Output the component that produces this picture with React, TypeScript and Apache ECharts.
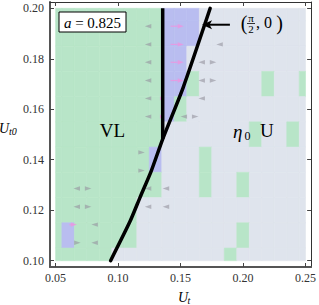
import React, { useEffect, useRef } from 'react';
import * as echarts from 'echarts';

// ---- axis ranges & ticks ----
const X_MIN = 0.0455;
const X_MAX = 0.2545;
const Y_MIN = 0.0975;
const Y_MAX = 0.2025;
const xTicks = [0.05, 0.1, 0.15, 0.2, 0.25];
const yTicks = [0.1, 0.12, 0.14, 0.16, 0.18, 0.2];

// ---- region cells (U_t = 0.05..0.25 step 0.01, U_t0 = 0.20..0.10 step 0.01) ----
const cellXs = [0.05, 0.06, 0.07, 0.08, 0.09, 0.1, 0.11, 0.12, 0.13, 0.14, 0.15, 0.16, 0.17, 0.18, 0.19, 0.2, 0.21, 0.22, 0.23, 0.24, 0.25];
const cellYs = [0.2, 0.19, 0.18, 0.17, 0.16, 0.15, 0.14, 0.13, 0.12, 0.11, 0.1];
// G = VL (green), U = U (grey-blue), P = purple
const cellRows = [
  'GGGGGGGGGPPPUUUUUUUUU',
  'GGGGGGGGGPPPUUUUUUUUU',
  'GGGGGGGGGPPUUUUUUUUUU',
  'GGGGGGGGGPPGUUUUUGUUG',
  'GGGGGGGGGPGUUUUUUUUUU',
  'GGGGGGGGGUUUUUUUGUUGU',
  'GGGGGGGGPUUUGUUUUUUUU',
  'GGGGGGGGGUUUGUUGUUUUU',
  'GGGGGGGUUUUUUUUUUUUUU',
  'GPGGGGGUUUUUUUUGUUUUU',
  'GGGGGUUUUUUUUUGUUUUUU',
];
const cellHalf = 0.005;
const dataXMin = 0.05, dataXMax = 0.25, dataYMin = 0.1, dataYMax = 0.2;
const cellColors: Record<string, string> = { G: '#b8e5c8', U: '#dfe4ed', P: '#b9bdf0' };
const cellCats = ['G', 'U', 'P'];

// ---- direction arrows: [tip U_t, U_t0, direction (-1 left, +1 right)] ----
const grayArrows: number[][] = [
  [0.1214, 0.1929, -1],
  [0.1214, 0.1857, -1], [0.1786, 0.1857, -1],
  [0.1214, 0.1786, -1], [0.1643, 0.1786, -1], [0.1786, 0.1786, 1],
  [0.1214, 0.1714, -1], [0.1643, 0.1714, -1], [0.1786, 0.1714, 1],
  [0.1214, 0.1643, -1], [0.1643, 0.1643, -1],
  [0.1214, 0.1571, -1], [0.15, 0.1571, -1], [0.1643, 0.1571, 1],
  [0.1214, 0.1429, 1],
  [0.1214, 0.1357, 1],
  [0.0643, 0.1286, -1], [0.0786, 0.1286, 1], [0.1214, 0.1286, -1], [0.1357, 0.1286, -1],
  [0.0643, 0.1214, -1], [0.0786, 0.1214, 1], [0.1214, 0.1214, -1], [0.1357, 0.1214, -1],
  [0.0786, 0.1143, -1],
  [0.0786, 0.1071, -1], [0.07, 0.1071, 1],
];
// pink arrows: [tail U_t, tip U_t, U_t0]
const pinkArrows: number[][] = [
  [0.142, 0.1525, 0.1929],
  [0.142, 0.1525, 0.1857],
  [0.142, 0.1525, 0.1786],
  [0.142, 0.1525, 0.1714],
  [0.1335, 0.1357, 0.1643],
  [0.1335, 0.1357, 0.1571],
  [0.061, 0.067, 0.1143],
];

// ---- boundary curves ----
const curveX = [0.094, 0.1095, 0.1175, 0.1265, 0.1357, 0.152, 0.1737];
const curveY = [0.1, 0.1155, 0.125, 0.1355, 0.1482, 0.1685, 0.2];
const vLineX = [0.1357, 0.1357];
const vLineY = [0.1482, 0.2];
// annotation arrow pointing at (pi/2, 0): [tail U_t, tip U_t, U_t0]
const annot = [0.1895, 0.1672, 0.1935];

export default function App() {
  const ref = useRef<HTMLDivElement>(null);
  useEffect(() => {
    if (!ref.current) return;
    const chart = echarts.init(ref.current, null, { renderer: 'svg' });
    const cells: number[][] = [];
    cellRows.forEach((row, ri) => {
      for (let ci = 0; ci < row.length; ci++) {
        cells.push([cellXs[ci], cellYs[ri], cellCats.indexOf(row[ci])]);
      }
    });
    const serif = 'Liberation Serif';
    const axisCommon = (min: number, max: number) => ({
      type: 'value', min, max, splitLine: { show: false },
    });
    const option: any = {
      animation: false,
      backgroundColor: '#ffffff',
      grid: { left: 50, top: 2, right: 5, bottom: 38 },
      xAxis: [
        {
          ...axisCommon(X_MIN, X_MAX), position: 'bottom',
          axisLine: { onZero: false, lineStyle: { color: '#555', width: 2 } },
          axisTick: { inside: true, length: 4, customValues: xTicks, lineStyle: { color: '#444' } },
          axisLabel: { customValues: xTicks, formatter: (v: number) => v.toFixed(2), margin: 5, fontFamily: serif, fontSize: 12, color: '#333' },
        },
        {
          ...axisCommon(X_MIN, X_MAX), position: 'top',
          axisLine: { onZero: false, lineStyle: { color: '#333', width: 1 } },
          axisTick: { inside: true, length: 4, customValues: xTicks, lineStyle: { color: '#444' } },
          axisLabel: { show: false },
        },
      ],
      yAxis: [
        {
          ...axisCommon(Y_MIN, Y_MAX), position: 'left',
          axisLine: { onZero: false, lineStyle: { color: '#555', width: 2 } },
          axisTick: { inside: true, length: 4, customValues: yTicks, lineStyle: { color: '#444' } },
          axisLabel: { customValues: yTicks, formatter: (v: number) => v.toFixed(2), margin: 6, fontFamily: serif, fontSize: 12, color: '#333' },
        },
        {
          ...axisCommon(Y_MIN, Y_MAX), position: 'right',
          axisLine: { onZero: false, lineStyle: { color: '#333', width: 1 } },
          axisTick: { inside: true, length: 4, customValues: yTicks, lineStyle: { color: '#444' } },
          axisLabel: { show: false },
        },
      ],
      series: [
        {
          type: 'custom', xAxisIndex: 0, yAxisIndex: 0, z: 1,
          data: cells,
          renderItem: (params: any, api: any) => {
            const x = api.value(0), y = api.value(1), c = cellCats[api.value(2)];
            const x0 = Math.max(x - cellHalf, dataXMin), x1 = Math.min(x + cellHalf, dataXMax);
            const y0 = Math.max(y - cellHalf, dataYMin), y1 = Math.min(y + cellHalf, dataYMax);
            const p0 = api.coord([x0, y1]);
            const p1 = api.coord([x1, y0]);
            return {
              type: 'rect',
              shape: { x: p0[0], y: p0[1], width: p1[0] - p0[0], height: p1[1] - p0[1] },
              style: { fill: cellColors[c], stroke: cellColors[c], lineWidth: 0.6 },
            };
          },
        },
        {
          type: 'custom', xAxisIndex: 0, yAxisIndex: 0, z: 3,
          data: grayArrows,
          renderItem: (params: any, api: any) => {
            const p = api.coord([api.value(0), api.value(1)]);
            const d = api.value(2);
            const L = 6.5, W = 2.2;
            return {
              type: 'polygon',
              shape: { points: [[p[0], p[1]], [p[0] - d * L, p[1] - W], [p[0] - d * L, p[1] + W]] },
              style: { fill: 'rgba(150,148,160,0.62)' },
            };
          },
        },
        {
          type: 'custom', xAxisIndex: 0, yAxisIndex: 0, z: 3,
          data: pinkArrows,
          renderItem: (params: any, api: any) => {
            const t = api.coord([api.value(0), api.value(2)]);
            const h = api.coord([api.value(1), api.value(2)]);
            const L = Math.min(6, Math.abs(h[0] - t[0]));
            return {
              type: 'group',
              children: [
                { type: 'line', shape: { x1: t[0], y1: t[1], x2: h[0] - L, y2: h[1] }, style: { stroke: 'rgba(235,150,225,0.85)', lineWidth: 1.2 } },
                { type: 'polygon', shape: { points: [[h[0], h[1]], [h[0] - L, h[1] - 2.2], [h[0] - L, h[1] + 2.2]] }, style: { fill: 'rgba(235,150,225,0.85)' } },
              ],
            };
          },
        },
        {
          type: 'line', xAxisIndex: 0, yAxisIndex: 0, z: 5,
          data: curveX.map((x, i) => [x, curveY[i]]),
          symbol: 'none', smooth: 0.2,
          lineStyle: { color: '#000', width: 3.5, cap: 'round' },
        },
        {
          type: 'line', xAxisIndex: 0, yAxisIndex: 0, z: 5,
          data: vLineX.map((x, i) => [x, vLineY[i]]),
          symbol: 'none',
          lineStyle: { color: '#000', width: 3.5 },
        },
        {
          type: 'custom', xAxisIndex: 0, yAxisIndex: 0, z: 6, clip: false,
          data: [annot],
          renderItem: (params: any, api: any) => {
            const t = api.coord([api.value(0), api.value(2)]);
            const h = api.coord([api.value(1), api.value(2)]);
            return {
              type: 'group',
              children: [
                { type: 'line', shape: { x1: t[0], y1: t[1], x2: h[0] + 6, y2: h[1] }, style: { stroke: '#000', lineWidth: 2 } },
                { type: 'polygon', shape: { points: [[h[0], h[1]], [h[0] + 10, h[1] - 4.5], [h[0] + 7.5, h[1]], [h[0] + 10, h[1] + 4.5]] }, style: { fill: '#000' } },
              ],
            };
          },
        },
      ],
      graphic: [
        { type: 'rect', z: 10, shape: { x: 59, y: 12, width: 67, height: 20 }, style: { fill: '#fff', stroke: '#000', lineWidth: 1 } },
        { type: 'text', z: 11, x: 92.5, y: 22.5, style: { text: '{i|a} = 0.825', rich: { i: { fontStyle: 'italic', fontFamily: serif, fontSize: 15 } }, fontFamily: serif, fontSize: 15, fill: '#000', align: 'center', verticalAlign: 'middle' } },
        { type: 'text', z: 11, x: 112.5, y: 130.5, style: { text: 'VL', fontFamily: serif, fontSize: 19, fill: '#000', align: 'center', verticalAlign: 'middle' } },
        { type: 'text', z: 11, x: 233, y: 131, style: { text: 'η', fontFamily: serif, fontStyle: 'italic', fontSize: 19, fill: '#000', align: 'left', verticalAlign: 'middle' } },
        { type: 'text', z: 11, x: 244.5, y: 136, style: { text: '0', fontFamily: serif, fontSize: 12, fill: '#000', align: 'left', verticalAlign: 'middle' } },
        { type: 'text', z: 11, x: 260, y: 130.5, style: { text: 'U', fontFamily: serif, fontSize: 19, fill: '#000', align: 'left', verticalAlign: 'middle' } },
        { type: 'text', z: 11, x: 244, y: 23, style: { text: '(', fontFamily: serif, fontSize: 20, fill: '#000', align: 'center', verticalAlign: 'middle' } },
        { type: 'text', z: 11, x: 251, y: 18, style: { text: 'π', fontFamily: serif, fontSize: 11, fill: '#000', align: 'center', verticalAlign: 'middle' } },
        { type: 'line', z: 11, shape: { x1: 247, y1: 23.5, x2: 255, y2: 23.5 }, style: { stroke: '#000', lineWidth: 0.8 } },
        { type: 'text', z: 11, x: 251, y: 29, style: { text: '2', fontFamily: serif, fontSize: 11, fill: '#000', align: 'center', verticalAlign: 'middle' } },
        { type: 'text', z: 11, x: 256, y: 22.5, style: { text: ', 0', fontFamily: serif, fontSize: 16, fill: '#000', align: 'left', verticalAlign: 'middle' } },
        { type: 'text', z: 11, x: 279.5, y: 23, style: { text: ')', fontFamily: serif, fontSize: 20, fill: '#000', align: 'center', verticalAlign: 'middle' } },
        { type: 'text', z: 11, x: 178, y: 297, style: { text: 'U', fontFamily: serif, fontStyle: 'italic', fontSize: 14, fill: '#000', align: 'left', verticalAlign: 'middle' } },
        { type: 'text', z: 11, x: 187.5, y: 300, style: { text: 't', fontFamily: serif, fontStyle: 'italic', fontSize: 10, fill: '#000', align: 'left', verticalAlign: 'middle' } },
        { type: 'text', z: 11, x: -1, y: 128, style: { text: 'U', fontFamily: serif, fontStyle: 'italic', fontSize: 14, fill: '#000', align: 'left', verticalAlign: 'middle' } },
        { type: 'text', z: 11, x: 9, y: 131.5, style: { text: 't0', fontFamily: serif, fontStyle: 'italic', fontSize: 10, fill: '#000', align: 'left', verticalAlign: 'middle' } },
      ],
    };
    chart.setOption(option);
    return () => chart.dispose();
  }, []);
  return <div ref={ref} style={{ position: 'fixed', left: 0, top: 0, width: 319, height: 305 }} />;
}
